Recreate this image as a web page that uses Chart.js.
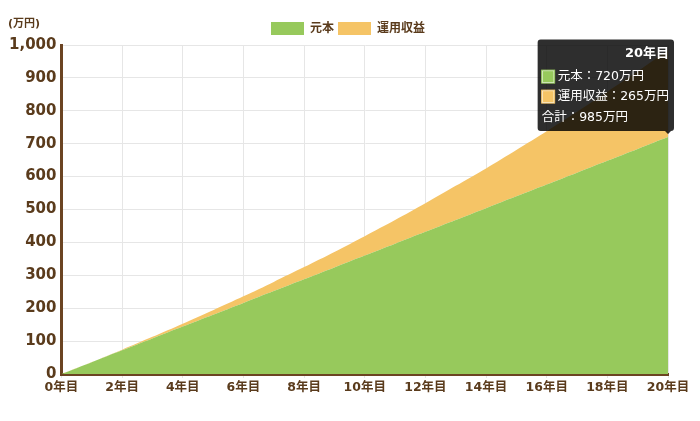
<!DOCTYPE html>
<html lang="ja">
<head>
<meta charset="utf-8">
<title>積立シミュレーション</title>
<script src="https://cdn.jsdelivr.net/npm/chart.js@4.4.1/dist/chart.umd.min.js"></script>
<style>
  html, body { margin: 0; padding: 0; background: #fff; }
  .wrap { position: relative; width: 700px; height: 421px; }
  .unit {
    position: absolute; left: 8px; top: 14px;
    font: bold 11px "DejaVu Sans", "Noto Sans CJK JP", sans-serif; color: #5a3b1c;
  }
</style>
</head>
<body>
<div class="wrap">
  <span class="unit">(万円)</span>
  <canvas id="chart" width="700" height="421"></canvas>
</div>
<script>
// 年数（0年目〜20年目）
const years = [0, 1, 2, 3, 4, 5, 6, 7, 8, 9, 10, 11, 12, 13, 14, 15, 16, 17, 18, 19, 20];
// 元本（万円）
const principal = [0, 36, 72, 108, 144, 180, 216, 252, 288, 324, 360, 396, 432, 468, 504, 540, 576, 612, 648, 684, 720];
// 運用収益（万円）
const returns = [0, 0.5, 2, 5, 9, 14, 20, 28, 37, 47, 59, 72, 87, 104, 121, 141, 162, 185, 210, 236, 265];
const yTicks = [0, 100, 200, 300, 400, 500, 600, 700, 800, 900, 1000];

const brown = "#6b4422";
const tickColor = "#5a3b1c";
const font = "'DejaVu Sans', 'Noto Sans CJK JP', sans-serif";

// ツールチップを元本の点に合わせる
Chart.Tooltip.positioners.first = (items) => {
    if (!items.length) return false;
    return { x: items[0].element.x, y: items[0].element.y };
};

const chart = new Chart(document.getElementById("chart"), {
    type: "line",
    data: {
        datasets: [
            {
                label: "元本",
                data: years.map((y, i) => ({ x: y, y: principal[i] })),
                backgroundColor: "#97c95c",
                borderColor: "#97c95c",
                borderWidth: 0,
                fill: "origin",
                pointRadius: 0,
                pointHoverRadius: 0,
                tension: 0.3,
            },
            {
                label: "運用収益",
                data: years.map((y, i) => ({ x: y, y: returns[i] })),
                backgroundColor: "#f5c466",
                borderColor: "#f5c466",
                borderWidth: 0,
                fill: "-1",
                pointRadius: 0,
                pointHoverRadius: 0,
                tension: 0.3,
            },
        ],
    },
    options: {
        responsive: false,
        animation: false,
        layout: { padding: { left: 4, right: 8, top: 18, bottom: 24 } },
        interaction: { mode: "index", intersect: false },
        scales: {
            x: {
                type: "linear",
                min: 0,
                max: 20,
                stacked: true,
                afterBuildTicks: (axis) => {
                    axis.ticks = years.filter(y => y % 2 === 0).map(v => ({ value: v }));
                },
                ticks: {
                    color: tickColor,
                    font: { family: font, size: 12.5, weight: "bold" },
                    padding: 2,
                    maxRotation: 0,
                    callback: (v) => v + "年目",
                },
                grid: { color: "#e6e6e6", drawTicks: true, tickLength: 4 },
                border: { color: brown, width: 3 },
            },
            y: {
                stacked: true,
                min: 0,
                max: 1000,
                afterBuildTicks: (axis) => {
                    axis.ticks = yTicks.map(v => ({ value: v }));
                },
                ticks: {
                    color: tickColor,
                    font: { family: font, size: 15, weight: "bold" },
                    padding: 5,
                    callback: (v) => v.toLocaleString("en-US"),
                },
                grid: { color: "#e6e6e6", drawTicks: false },
                border: { color: brown, width: 3 },
            },
            // 右側の余白用（表示なし）
            spacer: {
                type: "linear",
                position: "right",
                display: true,
                grid: { display: false },
                border: { display: false },
                ticks: { display: false },
                afterFit: (axis) => { axis.width = 24; },
            },
        },
        plugins: {
            legend: {
                position: "top",
                labels: {
                    color: tickColor,
                    font: { family: font, size: 12, weight: "bold" },
                    boxWidth: 33,
                    boxHeight: 13,
                    padding: 4,
                },
            },
            tooltip: {
                position: "first",
                xAlign: "right",
                yAlign: "bottom",
                backgroundColor: "rgba(0,0,0,0.82)",
                titleAlign: "right",
                titleFont: { family: font, size: 13, weight: "bold" },
                bodyFont: { family: font, size: 12.5 },
                footerFont: { family: font, size: 12.5, weight: "normal" },
                footerMarginTop: 6,
                bodySpacing: 5,
                titleMarginBottom: 8,
                padding: { top: 6, bottom: 6, left: 4, right: 5 },
                boxWidth: 13,
                boxHeight: 13,
                boxPadding: 1,
                cornerRadius: 3,
                caretSize: 3,
                caretPadding: 3,
                callbacks: {
                    title: (items) => items[0].parsed.x + "年目",
                    label: (item) => item.dataset.label + "：" + Math.round(item.parsed.y) + "万円",
                    labelColor: (item) => ({
                        borderColor: item.dataset.backgroundColor,
                        backgroundColor: item.dataset.backgroundColor,
                        borderWidth: 0,
                    }),
                    footer: (items) => "合計：" + Math.round(items.reduce((s, it) => s + it.parsed.y, 0)) + "万円",
                },
            },
        },
    },
});

const last = years.length - 1;
chart.tooltip.setActiveElements(
    [{ datasetIndex: 0, index: last }, { datasetIndex: 1, index: last }],
    { x: 668, y: 135 }
);
chart.update();
</script>
</body>
</html>
